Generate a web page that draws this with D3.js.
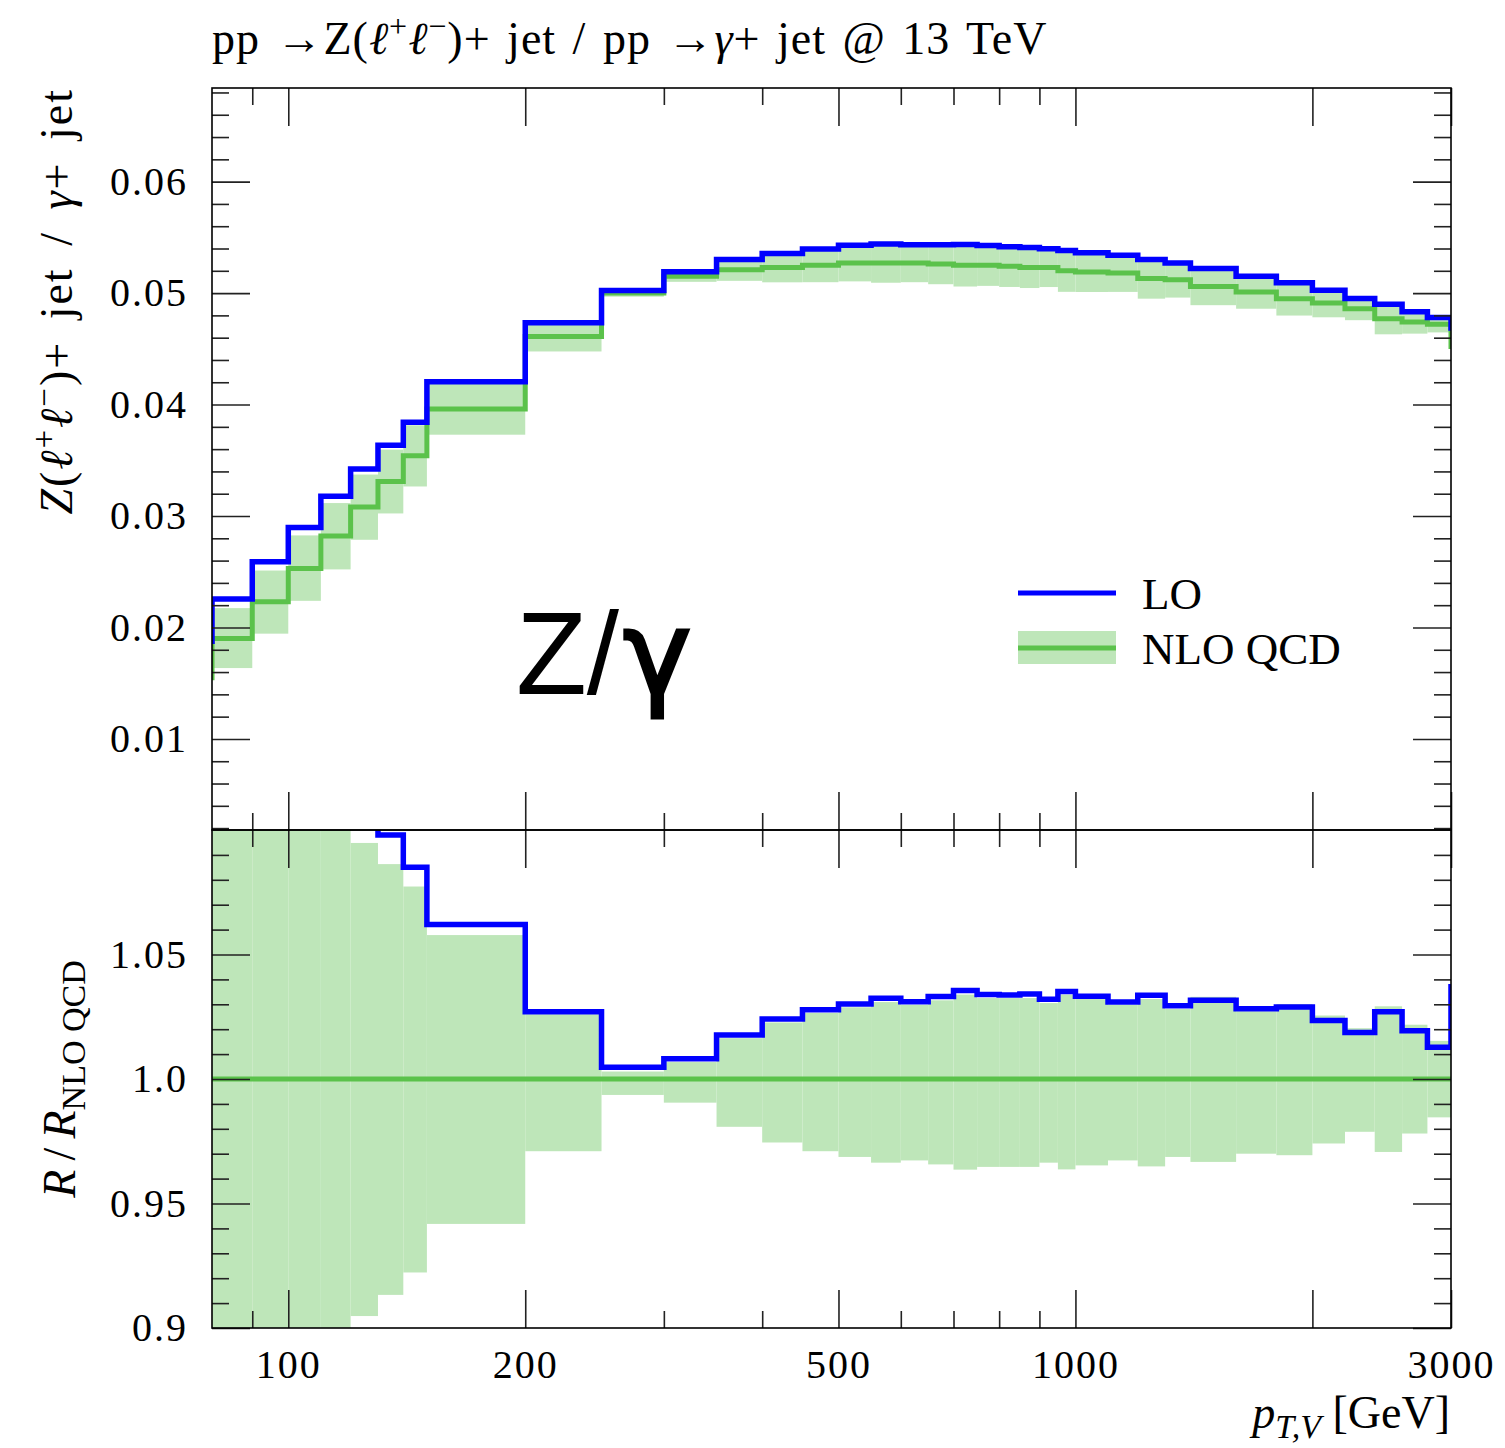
<!DOCTYPE html>
<html>
<head>
<meta charset="utf-8">
<script src="https://cdn.jsdelivr.net/npm/d3@7"></script>
<style>
body { margin: 0; background: #fff; }
text { font-family: "Liberation Serif", serif; fill: #000; }
.tick text { font-size: 40px; letter-spacing: 2px; }
</style>
</head>
<body>
<script>
// bin edges in GeV, the first and last bin run past the axis and get clipped
var binEdges = [70, 80, 90, 100, 110, 120, 130, 140, 150, 200, 250, 300, 350, 400, 450, 500,
    550, 600, 650, 700, 750, 800, 850, 900, 950, 1000, 1100, 1200, 1300, 1400, 1600, 1800,
    2000, 2200, 2400, 2600, 2800, 3000, 3200];

// NLO QCD central value of Z/gamma ratio
var nloCentral = [0.0155, 0.0190, 0.0223, 0.0253, 0.0282, 0.0308, 0.0331, 0.0354, 0.0396, 0.0461,
    0.0500, 0.0515, 0.0521, 0.0523, 0.0525, 0.0527, 0.0527, 0.0527, 0.0526, 0.0525, 0.0525,
    0.0524, 0.0523, 0.0523, 0.0520, 0.0519, 0.0518, 0.0513, 0.0512, 0.0506, 0.0501, 0.0495,
    0.0491, 0.0486, 0.0477, 0.0474, 0.0472, 0.0452];

// LO / NLO
var loRatio = [1.21, 1.187, 1.161, 1.145, 1.127, 1.111, 1.098, 1.085, 1.062, 1.027,
    1.0047, 1.0081, 1.0177, 1.0241, 1.0278, 1.0301, 1.0324, 1.031, 1.0331, 1.0355, 1.0339,
    1.0337, 1.0341, 1.032, 1.0351, 1.0332, 1.0309, 1.0336, 1.0294, 1.0316, 1.0282, 1.0289,
    1.0235, 1.0187, 1.027, 1.0194, 1.0128, 1.037];

// NLO uncertainty band, relative to NLO central
var nloBandDown = [0.85, 0.861, 0.872, 0.885, 0.894, 0.9048, 0.9133, 0.9223, 0.9418, 0.971,
    0.9936, 0.9905, 0.9808, 0.9745, 0.971, 0.9687, 0.9664, 0.9673, 0.9657, 0.9636, 0.9647,
    0.9647, 0.9647, 0.9664, 0.9637, 0.9653, 0.9673, 0.9649, 0.9687, 0.9667, 0.97, 0.9694,
    0.9741, 0.9788, 0.9707, 0.9781, 0.9846, 0.98];
var nloBandUp = [1.15, 1.144, 1.126, 1.117, 1.105, 1.0948, 1.0863, 1.0773, 1.0578, 1.026,
    1.003, 1.0068, 1.0164, 1.0227, 1.0265, 1.0288, 1.0309, 1.0298, 1.0316, 1.0339, 1.0325,
    1.0325, 1.0325, 1.0305, 1.0339, 1.0321, 1.0298, 1.0321, 1.0281, 1.033, 1.0272, 1.0301,
    1.0255, 1.0204, 1.0292, 1.0218, 1.0153, 1.02];

var xTickMajor = [100, 200, 500, 1000, 2000, 3000];
var xTickMinor = [90, 300, 400, 600, 700, 800, 900];
var xTickLabels = ["100", "200", "500", "1000", "3000"];
var yTicksTop = [0.01, 0.02, 0.03, 0.04, 0.05, 0.06];
var yTickLabelsTop = ["0.01", "0.02", "0.03", "0.04", "0.05", "0.06"];
var yTicksRatio = [0.9, 0.95, 1.0, 1.05];
var yTickLabelsRatio = ["0.9", "0.95", "1.0", "1.05"];

var W = 1505, H = 1448;
var pLeft = 212, pRight = 1451, pTop = 88, pMid = 830, pBottom = 1328;
var blue = "#0000ff", green = "#5bc24b", bandFill = "#bee6b9";

var svg = d3.select("body").append("svg").attr("width", W).attr("height", H);

var x = d3.scaleLog().domain([80, 3000]).range([pLeft, pRight]);
var yTop = d3.scaleLinear().domain([0.00183, 0.0684]).range([pMid, pTop]);
var yRatio = d3.scaleLinear().domain([0.9, 1.1]).range([pBottom, pMid]);

var bins = nloCentral.map(function(d, i) {
    return {
        x0: binEdges[i], x1: binEdges[i + 1],
        nlo: d, lo: d * loRatio[i], dn: d * nloBandDown[i], up: d * nloBandUp[i],
        r: loRatio[i], rdn: nloBandDown[i], rup: nloBandUp[i], one: 1
    };
});

var defs = svg.append("defs");
defs.append("clipPath").attr("id", "clipTop").append("rect")
    .attr("x", pLeft).attr("y", pTop).attr("width", pRight - pLeft).attr("height", pMid - pTop);
defs.append("clipPath").attr("id", "clipRatio").append("rect")
    .attr("x", pLeft).attr("y", pMid).attr("width", pRight - pLeft).attr("height", pBottom - pMid);

function stepPath(yScale, key) {
    var pts = [];
    bins.forEach(function(b) {
        pts.push([b.x0, b[key]], [b.x1, b[key]]);
    });
    return d3.line().x(function(p) { return x(p[0]); }).y(function(p) { return yScale(p[1]); })(pts);
}

function drawPanel(clipId, yScale, dnKey, upKey, nloKey, loKey) {
    var g = svg.append("g").attr("clip-path", "url(#" + clipId + ")");
    g.selectAll("rect.band").data(bins).enter().append("rect")
        .attr("class", "band")
        .attr("x", function(b) { return x(b.x0); })
        .attr("width", function(b) { return x(b.x1) - x(b.x0); })
        .attr("y", function(b) { return yScale(b[upKey]); })
        .attr("height", function(b) { return yScale(b[dnKey]) - yScale(b[upKey]); })
        .attr("fill", bandFill);
    g.append("path").attr("d", stepPath(yScale, nloKey))
        .attr("fill", "none").attr("stroke", green).attr("stroke-width", 5)
        .attr("stroke-linejoin", "miter");
    g.append("path").attr("d", stepPath(yScale, loKey))
        .attr("fill", "none").attr("stroke", blue).attr("stroke-width", 5.5)
        .attr("stroke-linejoin", "miter");
}

drawPanel("clipTop", yTop, "dn", "up", "nlo", "lo");
drawPanel("clipRatio", yRatio, "rdn", "rup", "one", "r");

// ticks, all pointing inwards
function axisGroup(axis, tx, ty, labels) {
    var g = svg.append("g").attr("transform", "translate(" + tx + "," + ty + ")").call(axis);
    g.attr("font-family", null).attr("font-size", null);
    g.select(".domain").remove();
    g.selectAll(".tick line").attr("stroke", "#222").attr("stroke-width", 1.6);
    if (!labels) g.selectAll(".tick text").remove();
    return g;
}

var minorTop = d3.range(0.002, 0.0684, 0.002).filter(function(v) {
    return Math.abs(v * 100 - Math.round(v * 100)) > 1e-6;
});
var minorRatio = d3.range(0.91, 1.1, 0.01).filter(function(v) {
    return Math.abs(v * 20 - Math.round(v * 20)) > 1e-6;
});

[[yTop, pTop, pMid, yTicksTop, yTickLabelsTop, minorTop],
 [yRatio, pMid, pBottom, yTicksRatio, yTickLabelsRatio, minorRatio]].forEach(function(p, k) {
    var ys = p[0];
    axisGroup(d3.axisLeft(ys).tickValues(p[3]).tickSize(-38).tickPadding(24)
        .tickFormat(function(d, i) { return p[4][i]; }), pLeft, 0, true);
    axisGroup(d3.axisLeft(ys).tickValues(p[5]).tickSize(-17), pLeft, 0, false);
    axisGroup(d3.axisRight(ys).tickValues(p[3]).tickSize(-38), pRight, 0, false);
    axisGroup(d3.axisRight(ys).tickValues(p[5]).tickSize(-17), pRight, 0, false);

    axisGroup(d3.axisTop(x).tickValues(xTickMajor).tickSize(-38), 0, p[1], false);
    axisGroup(d3.axisTop(x).tickValues(xTickMinor).tickSize(-17), 0, p[1], false);
    axisGroup(d3.axisBottom(x).tickValues(xTickMajor).tickSize(-38).tickPadding(22)
        .tickFormat(function(d) { return xTickLabels.indexOf(String(d)) >= 0 ? String(d) : ""; }),
        0, p[2], k === 1);
    axisGroup(d3.axisBottom(x).tickValues(xTickMinor).tickSize(-17), 0, p[2], false);
});

// frames
[[pTop, pMid], [pMid, pBottom]].forEach(function(r) {
    svg.append("rect").attr("x", pLeft).attr("y", r[0])
        .attr("width", pRight - pLeft).attr("height", r[1] - r[0])
        .attr("fill", "none").attr("stroke", "#000").attr("stroke-width", 1.6);
});

function rich(t, parts) {
    parts.forEach(function(p) {
        var s = t.append("tspan").text(p.t);
        if (p.i) s.attr("font-style", "italic");
        if (p.dy) s.attr("dy", p.dy);
        if (p.fs) s.attr("font-size", p.fs);
    });
    return t;
}

// title
rich(svg.append("text").attr("x", 212).attr("y", 54).attr("font-size", 46)
    .style("letter-spacing", "1px").style("word-spacing", "4px"), [
    {t: "pp \u2192Z("}, {t: "\u2113", i: 1}, {t: "+", dy: -17, fs: 32},
    {t: "\u2113", i: 1, dy: 17}, {t: "\u2212", dy: -17, fs: 32}, {t: ")+ jet / pp \u2192", dy: 17},
    {t: "\u03b3", i: 1}, {t: "+ jet @ 13 TeV"}
]);

// y titles
rich(svg.append("text").attr("transform", "translate(72," + pTop + ") rotate(-90)")
    .attr("text-anchor", "end").attr("font-size", 46)
    .style("letter-spacing", "2px").style("word-spacing", "8px"), [
    {t: "Z", i: 1}, {t: "("}, {t: "\u2113", i: 1}, {t: "+", dy: -17, fs: 33},
    {t: "\u2113", i: 1, dy: 17}, {t: "\u2212", dy: -17, fs: 33}, {t: ")+ jet / ", dy: 17},
    {t: "\u03b3", i: 1}, {t: "+ jet"}
]);
rich(svg.append("text").attr("transform", "translate(75," + yRatio(1.0) + ") rotate(-90)")
    .attr("text-anchor", "middle").attr("font-size", 46), [
    {t: "R", i: 1}, {t: "\u2009/\u2009"}, {t: "R", i: 1}, {t: "NLO QCD", dy: 10, fs: 34}
]);

// x title
rich(svg.append("text").attr("x", 1450).attr("y", 1428)
    .attr("text-anchor", "end").attr("font-size", 46), [
    {t: "p", i: 1}, {t: "T,V", i: 1, dy: 10, fs: 34}, {t: " [GeV]", dy: -10}
]);

// big label
var zl = svg.append("text").attr("x", 516).attr("y", 694)
    .style("font-family", "'Liberation Sans', sans-serif").attr("font-size", 116);
zl.append("tspan").text("Z/");
zl.append("tspan").text("\u03b3").attr("dx", 4)
    .style("font-family", "'DejaVu Sans', sans-serif")
    .attr("stroke", "#000").attr("stroke-width", 3);

// legend
var lg = svg.append("g");
lg.append("line").attr("x1", 1018).attr("x2", 1116).attr("y1", 593).attr("y2", 593)
    .attr("stroke", blue).attr("stroke-width", 5);
lg.append("rect").attr("x", 1018).attr("y", 631).attr("width", 98).attr("height", 33)
    .attr("fill", bandFill);
lg.append("line").attr("x1", 1018).attr("x2", 1116).attr("y1", 648).attr("y2", 648)
    .attr("stroke", green).attr("stroke-width", 5);
lg.append("text").attr("x", 1142).attr("y", 609).attr("font-size", 45).text("LO");
lg.append("text").attr("x", 1142).attr("y", 664).attr("font-size", 45).text("NLO QCD");
</script>
</body>
</html>
